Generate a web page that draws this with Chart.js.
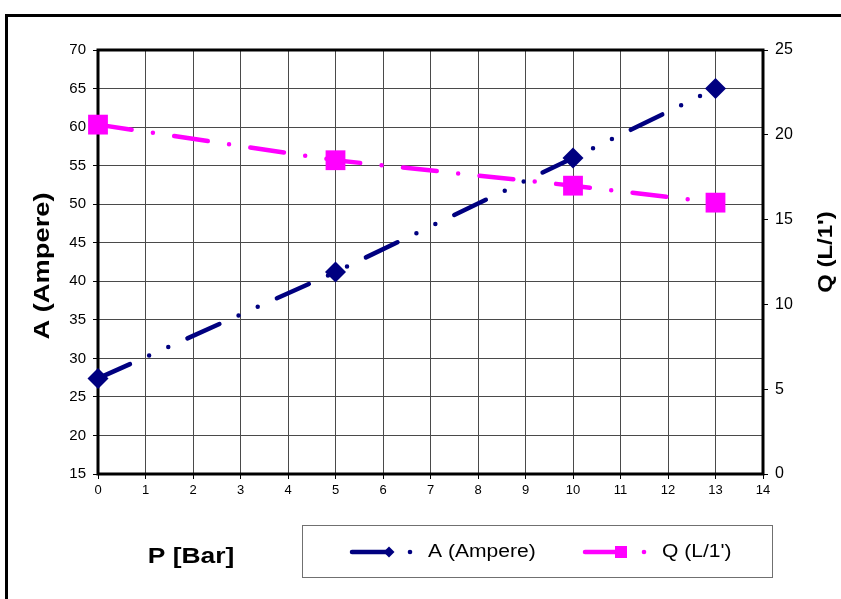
<!DOCTYPE html>
<html>
<head>
<meta charset="utf-8">
<script src="https://cdn.jsdelivr.net/npm/chart.js@4"></script>
<style>
  html, body { margin: 0; padding: 0; background: #fff; }
  canvas { display: block; }
</style>
</head>
<body>
<canvas id="c" width="841" height="599"></canvas>
<script>
// ---- data ----
const pressureValues = [0, 5, 10, 13];
const ampereValues = [27.4, 41.2, 56, 65];
const flowValues = [20.6, 18.5, 17, 16];
const seriesLabels = ['A (Ampere)', "Q (L/1')"];
const seriesColors = ['#000080', '#FF00FF'];
const xTitle = 'P [Bar]';
const yTitle = 'A (Ampere)';
const y2Title = "Q (L/1')";

const FONT = '"Liberation Sans", Arial, sans-serif';

function stretchedText(ctx, text, x, y, font, sx, align, rot) {
  ctx.save();
  ctx.translate(x, y);
  if (rot) ctx.rotate(rot);
  ctx.scale(sx, 1);
  ctx.font = font;
  ctx.textAlign = align;
  ctx.textBaseline = 'middle';
  ctx.fillStyle = '#000';
  ctx.fillText(text, 0, 0);
  ctx.restore();
}

const decorPlugin = {
  id: 'decor',
  beforeDraw(chart) {
    const ctx = chart.ctx;
    ctx.save();
    ctx.fillStyle = '#fff';
    ctx.fillRect(0, 0, chart.width, chart.height);
    ctx.strokeStyle = '#000';
    ctx.lineWidth = 3;
    ctx.strokeRect(6.5, 15.5, 2000, 2000);
    ctx.restore();
  },
  beforeDatasetsDraw(chart) {
    const ctx = chart.ctx;
    const a = chart.chartArea;
    ctx.save();
    ctx.strokeStyle = '#000';
    ctx.lineWidth = 3;
    ctx.strokeRect(a.left, a.top, a.right - a.left, a.bottom - a.top);
    ctx.restore();
  },
  afterDraw(chart) {
    const ctx = chart.ctx;
    const a = chart.chartArea;
    // axis titles
    stretchedText(ctx, yTitle, 43, (a.top + a.bottom) / 2 + 4, 'bold 22px ' + FONT, 1.24, 'center', -Math.PI / 2);
    stretchedText(ctx, y2Title, 826, (a.top + a.bottom) / 2 - 10, 'bold 21px ' + FONT, 1.14, 'center', -Math.PI / 2);
    stretchedText(ctx, xTitle, 191, 557, 'bold 22px ' + FONT, 1.2, 'center', 0);

    // legend box
    ctx.save();
    ctx.strokeStyle = '#707070';
    ctx.lineWidth = 1;
    ctx.strokeRect(302.5, 525.5, 470, 52);
    const ly = 552;
    const items = [
      { x0: 352, x1: 389, dot: 410, tx: 428, style: 'diamond' },
      { x0: 585, x1: 621, dot: 644, tx: 662, style: 'square' }
    ];
    items.forEach((it, i) => {
      const col = seriesColors[i];
      ctx.strokeStyle = col;
      ctx.fillStyle = col;
      ctx.lineWidth = 4.5;
      ctx.lineCap = 'round';
      ctx.beginPath();
      ctx.moveTo(it.x0, ly);
      ctx.lineTo(it.x1, ly);
      ctx.stroke();
      ctx.beginPath();
      if (it.style === 'diamond') {
        ctx.moveTo(it.x1 - 5.5, ly);
        ctx.lineTo(it.x1, ly - 5.5);
        ctx.lineTo(it.x1 + 5.5, ly);
        ctx.lineTo(it.x1, ly + 5.5);
        ctx.closePath();
      } else {
        ctx.rect(it.x1 - 6, ly - 6, 12, 12);
      }
      ctx.fill();
      ctx.beginPath();
      ctx.arc(it.dot, ly, 2.3, 0, Math.PI * 2);
      ctx.fill();
      stretchedText(ctx, seriesLabels[i], it.tx, ly, '18px ' + FONT, 1.17, 'left', 0);
    });
    ctx.restore();
  }
};

const gridColor = '#4a4a4a';

new Chart(document.getElementById('c'), {
  type: 'line',
  data: {
    datasets: [
      {
        label: seriesLabels[0],
        data: pressureValues.map((p, i) => ({ x: p, y: ampereValues[i] })),
        yAxisID: 'y',
        borderColor: seriesColors[0],
        backgroundColor: seriesColors[0],
        borderWidth: 4.5,
        borderCapStyle: 'round',
        borderDash: [35, 21, 0, 21, 0, 21],
        pointStyle: 'rectRot',
        pointRadius: 10.5,
        pointBorderWidth: 0,
        tension: 0,
        fill: false,
        clip: false
      },
      {
        label: seriesLabels[1],
        data: pressureValues.map((p, i) => ({ x: p, y: flowValues[i] })),
        yAxisID: 'y2',
        borderColor: seriesColors[1],
        backgroundColor: seriesColors[1],
        borderWidth: 4.5,
        borderCapStyle: 'round',
        borderDash: [34, 21.5, 0, 21.5],
        pointStyle: 'rect',
        pointRadius: 14,
        pointBorderWidth: 0,
        tension: 0,
        fill: false,
        clip: false
      }
    ]
  },
  options: {
    responsive: false,
    animation: false,
    devicePixelRatio: 1,
    layout: { padding: { top: 50, left: 0, right: 0, bottom: 0 } },
    plugins: {
      legend: { display: false },
      tooltip: { enabled: false },
      title: { display: false }
    },
    scales: {
      x: {
        type: 'linear',
        min: 0,
        max: 14,
        ticks: { stepSize: 1, color: '#000', font: { family: FONT, size: 13 }, padding: 4, maxRotation: 0 },
        grid: { color: gridColor, lineWidth: 1, tickLength: 5, tickColor: '#000' },
        border: { display: false },
        afterFit(s) { s.height = 125; }
      },
      y: {
        position: 'left',
        min: 15,
        max: 70,
        ticks: { stepSize: 5, color: '#000', font: { family: FONT, size: 15 }, padding: 7 },
        grid: { color: gridColor, lineWidth: 1, tickLength: 5, tickColor: '#000' },
        border: { display: false },
        afterFit(s) { s.width = 98; }
      },
      y2: {
        position: 'right',
        min: 0,
        max: 25,
        ticks: { stepSize: 5, color: '#000', font: { family: FONT, size: 16 }, padding: 7 },
        grid: { drawOnChartArea: false, tickLength: 5, tickColor: '#000', color: gridColor },
        border: { display: false },
        afterFit(s) { s.width = 78; }
      }
    }
  },
  plugins: [decorPlugin]
});
</script>
</body>
</html>
